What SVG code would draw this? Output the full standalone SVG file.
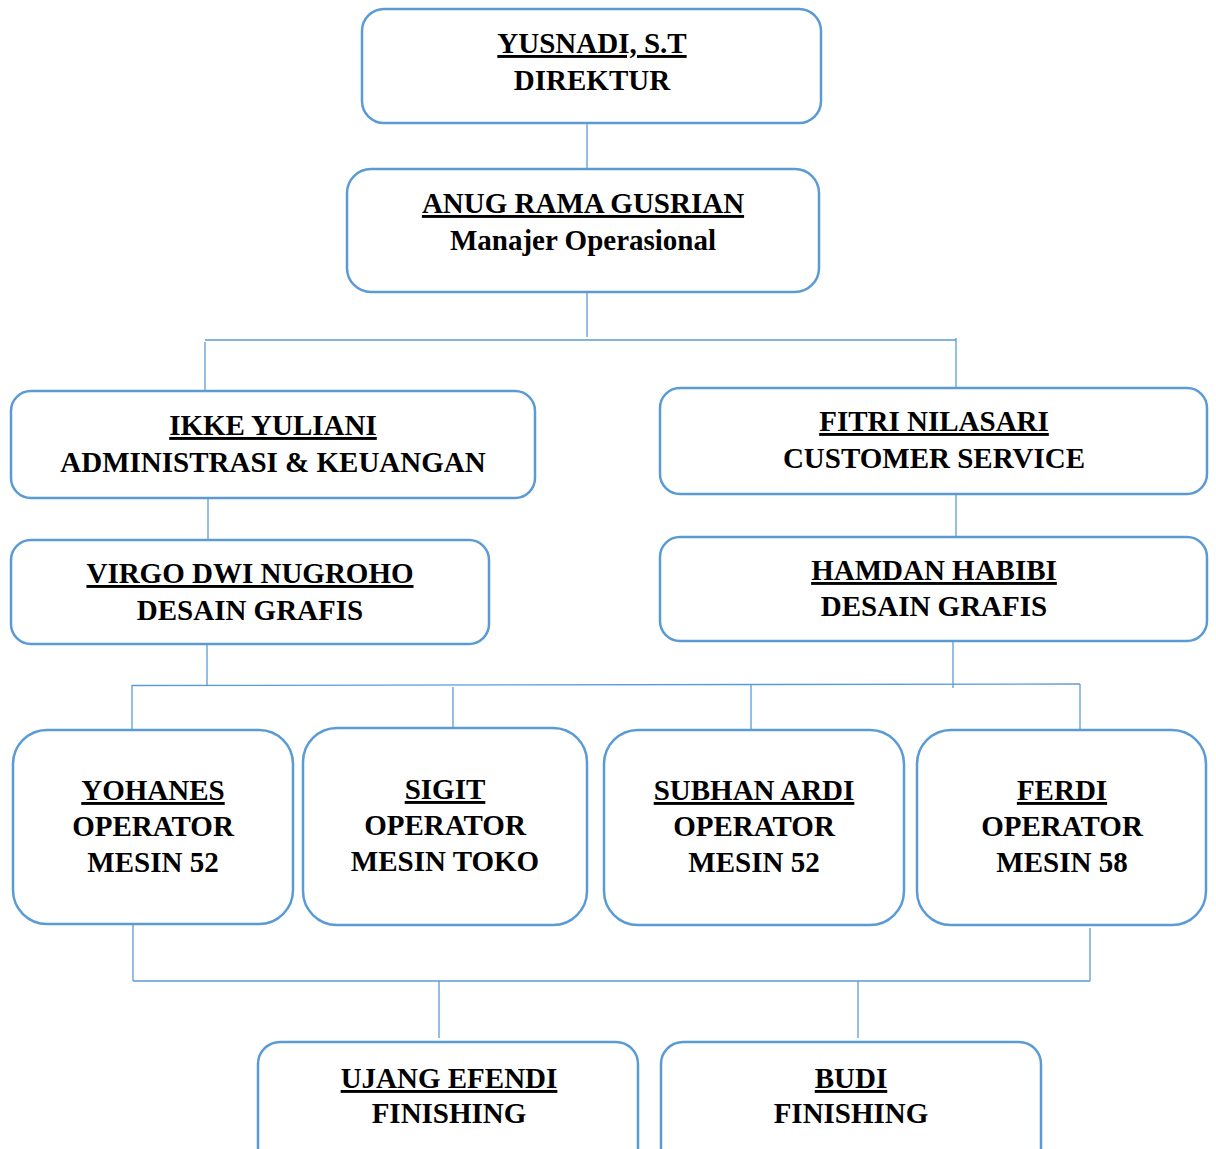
<svg xmlns="http://www.w3.org/2000/svg" width="1216" height="1149" viewBox="0 0 1216 1149">
<style>
.box{fill:#fff;stroke:#5B9BD5;stroke-width:2.5}
.ln{fill:none;stroke:#5B9BD5;stroke-width:1.3}
text{font-family:"Liberation Serif","Times New Roman",serif;font-weight:bold;font-size:29px;fill:#000;text-anchor:middle}
.u{text-decoration:underline}
</style>
<rect width="1216" height="1149" fill="#fff"/>
<g id="connectors">
<path class="ln" d="M587 122V181"/>
<path class="ln" d="M587 292V337"/>
<path class="ln" d="M205 340H956"/>
<path class="ln" d="M205 342V398"/>
<path class="ln" d="M956 338V393"/>
<path class="ln" d="M208 488V543"/>
<path class="ln" d="M956 485V540"/>
<path class="ln" d="M207 630V685"/>
<path class="ln" d="M953 633V688"/>
<path class="ln" d="M132 685.5L1080 684"/>
<path class="ln" d="M132 685V742"/>
<path class="ln" d="M453 687V729"/>
<path class="ln" d="M751 684V733"/>
<path class="ln" d="M1080 684V737"/>
<path class="ln" d="M133 925V981"/>
<path class="ln" d="M1090 928V981"/>
<path class="ln" d="M133 981H1090"/>
<path class="ln" d="M439 981V1038"/>
<path class="ln" d="M858 981V1038"/>
</g>
<g id="n-yusnadi">
<rect class="box" x="362" y="9" width="459" height="114" rx="22"/>
<text x="592" y="53" class="u">YUSNADI, S.T</text>
<text x="592" y="90">DIREKTUR</text>
</g>
<g id="n-anug">
<rect class="box" x="347" y="169" width="472" height="123" rx="24"/>
<text x="583" y="213" class="u">ANUG RAMA GUSRIAN</text>
<text x="583" y="250">Manajer Operasional</text>
</g>
<g id="n-ikke">
<rect class="box" x="11" y="391" width="524" height="107" rx="20"/>
<text x="273" y="435" class="u">IKKE YULIANI</text>
<text x="273" y="472">ADMINISTRASI &amp; KEUANGAN</text>
</g>
<g id="n-fitri">
<rect class="box" x="660" y="388" width="547" height="106" rx="20"/>
<text x="934" y="431" class="u">FITRI NILASARI</text>
<text x="934" y="468">CUSTOMER SERVICE</text>
</g>
<g id="n-virgo">
<rect class="box" x="11" y="540" width="478" height="104" rx="20"/>
<text x="250" y="583" class="u">VIRGO DWI NUGROHO</text>
<text x="250" y="620">DESAIN GRAFIS</text>
</g>
<g id="n-hamdan">
<rect class="box" x="660" y="537" width="547" height="104" rx="20"/>
<text x="934" y="580" class="u">HAMDAN HABIBI</text>
<text x="934" y="616">DESAIN GRAFIS</text>
</g>
<g id="n-yohanes">
<rect class="box" x="13" y="730" width="280" height="194" rx="34"/>
<text x="153" y="800" class="u">YOHANES</text>
<text x="153" y="836">OPERATOR</text>
<text x="153" y="872">MESIN 52</text>
</g>
<g id="n-sigit">
<rect class="box" x="303" y="728" width="284" height="197" rx="34"/>
<text x="445" y="799" class="u">SIGIT</text>
<text x="445" y="835">OPERATOR</text>
<text x="445" y="871">MESIN TOKO</text>
</g>
<g id="n-subhan">
<rect class="box" x="604" y="730" width="300" height="195" rx="34"/>
<text x="754" y="800" class="u">SUBHAN ARDI</text>
<text x="754" y="836">OPERATOR</text>
<text x="754" y="872">MESIN 52</text>
</g>
<g id="n-ferdi">
<rect class="box" x="917" y="730" width="289" height="195" rx="34"/>
<text x="1062" y="800" class="u">FERDI</text>
<text x="1062" y="836">OPERATOR</text>
<text x="1062" y="872">MESIN 58</text>
</g>
<g id="n-ujang">
<rect class="box" x="258" y="1042" width="380" height="140" rx="22"/>
<text x="449" y="1088" class="u">UJANG EFENDI</text>
<text x="449" y="1123">FINISHING</text>
</g>
<g id="n-budi">
<rect class="box" x="661" y="1042" width="380" height="140" rx="22"/>
<text x="851" y="1088" class="u">BUDI</text>
<text x="851" y="1123">FINISHING</text>
</g>
</svg>
